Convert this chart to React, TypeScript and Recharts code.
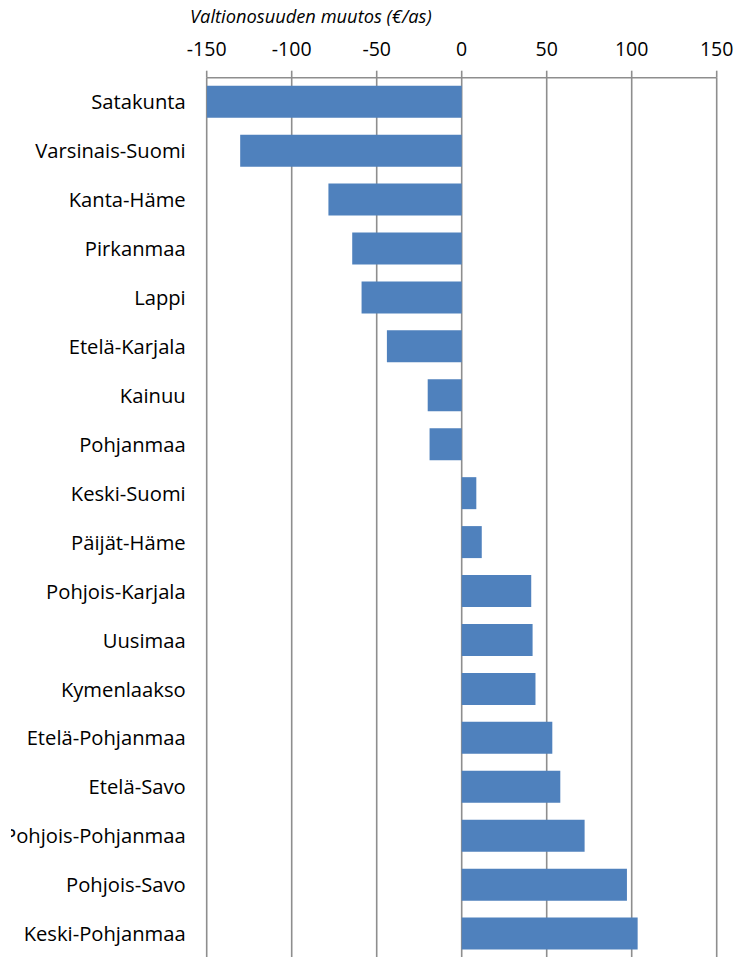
import React from "react";
import { BarChart, Bar, XAxis, YAxis, CartesianGrid } from "recharts";

const regions = [
  "Satakunta",
  "Varsinais-Suomi",
  "Kanta-Häme",
  "Pirkanmaa",
  "Lappi",
  "Etelä-Karjala",
  "Kainuu",
  "Pohjanmaa",
  "Keski-Suomi",
  "Päijät-Häme",
  "Pohjois-Karjala",
  "Uusimaa",
  "Kymenlaakso",
  "Etelä-Pohjanmaa",
  "Etelä-Savo",
  "Pohjois-Pohjanmaa",
  "Pohjois-Savo",
  "Keski-Pohjanmaa",
];

const changes = [
  -150, -130.3, -78.4, -64.4, -58.9, -44.0, -20.0, -18.9, 8.6, 11.8, 40.9,
  41.7, 43.4, 53.3, 58.0, 72.3, 97.2, 103.5,
];

const xTicks = [-150, -100, -50, 0, 50, 100, 150];
const axisTitle = "Valtionosuuden muutos (€/as)";

const data = regions.map((name, i) => ({ name, value: changes[i] }));

const FONT = "'Open Sans', sans-serif";
const GRID = "#8e8e8e";
const CLIP = 11;

export default function App() {
  return (
    <div style={{ position: "absolute", left: 0, top: 0, width: 735, height: 957, overflow: "hidden", background: "#fff" }}>
      <div style={{ position: "absolute", left: CLIP, top: 0, width: 735 - CLIP, height: 957, overflow: "hidden" }}>
        <div style={{ position: "absolute", left: -CLIP, top: 0 }}>
          <svg width={735} height={40} style={{ position: "absolute", left: 0, top: 0 }}>
            <text x={190} y={22.5} fontFamily={FONT} fontStyle="italic" fontSize={18.3} fill="#000">
              {axisTitle}
            </text>
          </svg>
          <BarChart
            width={735}
            height={980}
            data={data}
            layout="vertical"
            margin={{ top: 0, right: 18.3, bottom: 21.5, left: 0 }}
            barSize={32}
          >
            <CartesianGrid horizontal={false} vertical={true} stroke={GRID} strokeWidth={1.6} />
            <XAxis
              type="number"
              orientation="top"
              domain={[-150, 150]}
              ticks={xTicks}
              allowDataOverflow
              height={77.7}
              axisLine={{ stroke: GRID, strokeWidth: 1.6 }}
              tickLine={{ stroke: GRID, strokeWidth: 1.6 }}
              tickSize={7}
              tickMargin={15}
              tick={{ fill: "#000", fontSize: 19.5, fontFamily: FONT }}
            />
            <YAxis
              type="category"
              dataKey="name"
              width={206.7}
              axisLine={false}
              tickLine={false}
              tickSize={0}
              tickMargin={21}
              interval={0}
              tick={{ fill: "#000", fontSize: 20.2, fontFamily: FONT }}
            />
            <Bar dataKey="value" fill="#4f81bd" isAnimationActive={false} />
          </BarChart>
        </div>
      </div>
    </div>
  );
}
